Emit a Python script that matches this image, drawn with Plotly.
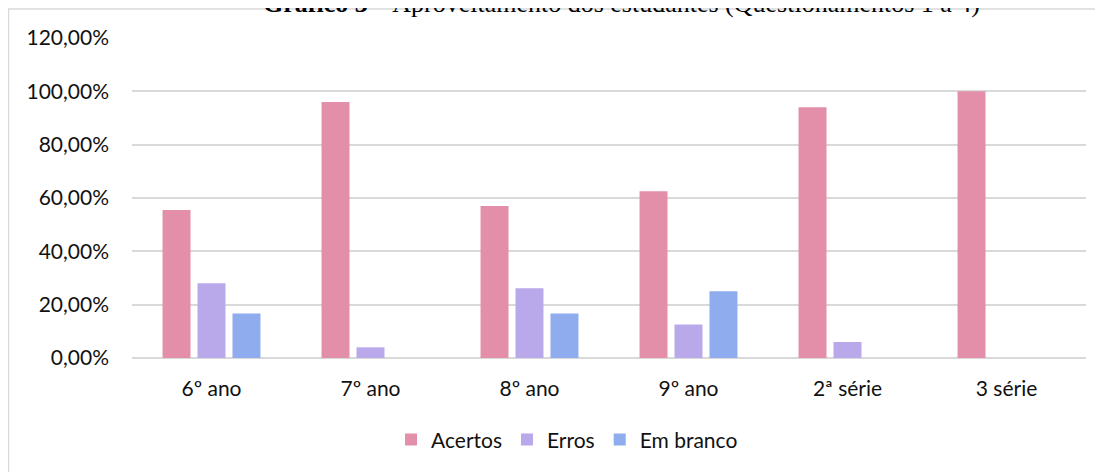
import plotly.graph_objects as go

categories = ["6º ano", "7º ano", "8º ano", "9º ano", "2ª série", "3 série"]
acertos = [0.555, 0.96, 0.57, 0.625, 0.94, 1.00]
erros = [0.28, 0.04, 0.262, 0.126, 0.06, 0.0]
em_branco = [0.167, 0.0, 0.167, 0.25, 0.0, 0.0]
tick_vals = [0, 0.2, 0.4, 0.6, 0.8, 1.0, 1.2]
tick_text = ["0,00%", "20,00%", "40,00%", "60,00%", "80,00%", "100,00%", "120,00%"]

series = [("Acertos", acertos, "#E48FA9"), ("Erros", erros, "#B9A9EB"), ("Em branco", em_branco, "#8FACEE")]

fig = go.Figure()
for name, vals, col in series:
    fig.add_trace(go.Bar(x=categories, y=vals, name=name,
                         marker=dict(color=col, line=dict(width=0))))

font = "Lato, 'Open Sans', sans-serif"
fig.update_layout(
    width=1103, height=472,
    margin=dict(l=124, r=25, t=30, b=122, autoexpand=False),
    paper_bgcolor="white", plot_bgcolor="white",
    barmode="group", bargap=0.34, bargroupgap=0.2,
    font=dict(family=font, size=21, color="#111111"),
    showlegend=True,
    legend=dict(orientation="h", x=0.456, xanchor="center", y=-0.256, yanchor="middle",
                font=dict(family=font, size=21, color="#111111"), itemwidth=30,
                traceorder="normal"),
    xaxis=dict(showgrid=False, showline=False, ticks="", tickfont=dict(size=21),
               ticklabelstandoff=16),
    yaxis=dict(range=[0, 1.2], tickvals=tick_vals, ticktext=tick_text, showgrid=True,
               gridcolor="#D9D9D9", gridwidth=1.5, zeroline=True, zerolinecolor="#D9D9D9",
               zerolinewidth=1.5, showline=False, ticks="", ticklabelstandoff=22,
               tickfont=dict(size=21)),
    shapes=[dict(type="rect", xref="paper", yref="paper", x0=-0.1295, x1=1.1, y0=-0.5, y1=1.0906,
                 line=dict(color="#D9D9D9", width=1.5), fillcolor="rgba(0,0,0,0)", layer="below")],
    annotations=[dict(text="<b>Gráfico 3</b> – Aproveitamento dos estudantes (Questionamentos 1 a 4)",
                      xref="paper", yref="paper", x=(621 - 132) / 954, y=1.108,
                      xanchor="center", yanchor="middle", showarrow=False,
                      font=dict(family="'Liberation Serif', 'Times New Roman', serif", size=26, color="#000000"))],
)
fig.write_html("out.html")
